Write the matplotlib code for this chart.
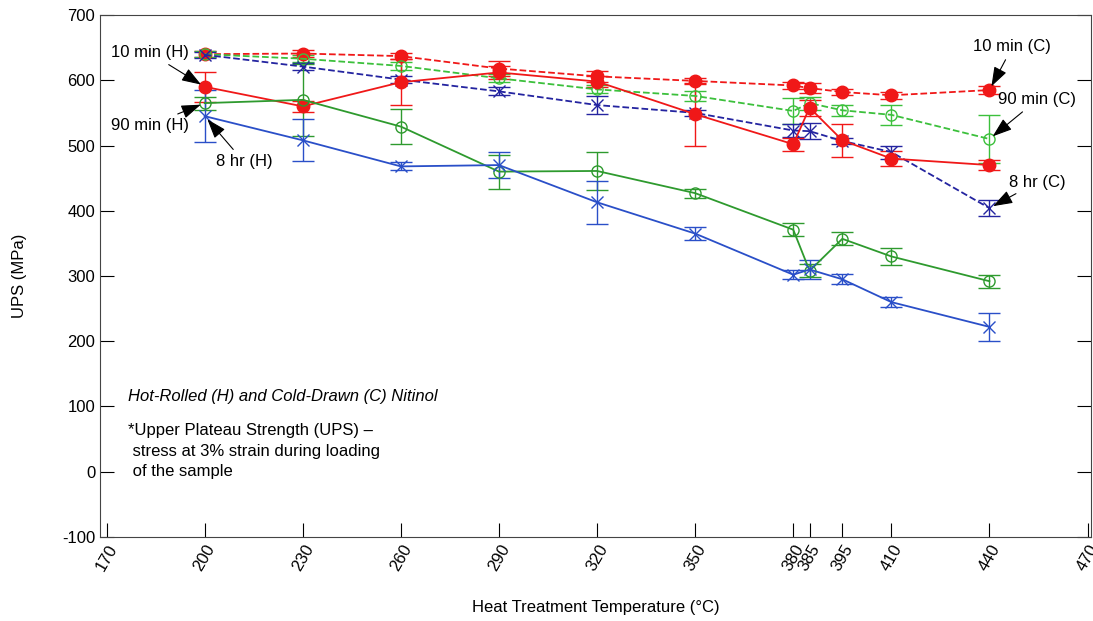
import numpy as np
import matplotlib
matplotlib.use('Agg')
import matplotlib.pyplot as plt

plt.rcParams['font.family'] = ['Liberation Sans', 'DejaVu Sans']
plt.rcParams['axes.unicode_minus'] = False

# heat treatment temperatures (deg C)
temps = [200, 230, 260, 290, 320, 350, 380, 385, 395, 410, 440]

# hot-rolled (H)
h10 = [590, 560, 597, 612, 598, 548, 502, 558, 508, 480, 470]
h10_err = [23, 8, 35, 10, 8, 48, 10, 12, 25, 12, 8]
h90 = [565, 570, 529, 460, 461, 427, 371, 308, 357, 330, 292]
h90_err = [10, 55, 27, 26, 29, 7, 10, 10, 10, 13, 10]
h8 = [545, 508, 468, 470, 413, 365, 302, 310, 295, 260, 222]
h8_err = [40, 32, 6, 20, 33, 10, 7, 15, 8, 8, 22]

# cold-drawn (C)
c10 = [640, 641, 637, 618, 606, 599, 592, 588, 582, 577, 585]
c10_err = [5, 5, 5, 12, 8, 5, 5, 8, 5, 5, 6]
c90 = [640, 633, 622, 603, 586, 576, 553, 565, 554, 547, 510]
c90_err = [5, 5, 6, 6, 6, 8, 20, 10, 8, 15, 37]
c8 = [639, 621, 601, 583, 562, 550, 523, 522, 507, 490, 404]
c8_err = [5, 6, 5, 6, 14, 5, 10, 12, 5, 10, 12]

xticks = [170, 200, 230, 260, 290, 320, 350, 380, 385, 395, 410, 440, 470]

red = '#f01818'
green = '#2e9a2e'
blue = '#2a4fc8'
navy = '#2424a0'

fig = plt.figure(figsize=(10.93, 6.21), dpi=100)
ax = fig.add_axes([0.0915, 0.1353, 0.9065, 0.8405])

kw = dict(lw=1.3, capsize=8, elinewidth=1)
# cold-drawn, dashed
ax.errorbar(temps, c10, yerr=c10_err, color=red, ls='--', marker='o', ms=9, mfc=red, **kw)
ax.errorbar(temps, c90, yerr=c90_err, color='#3cc03c', ls='--', marker='o', ms=8,
            mfc='none', **kw)
ax.errorbar(temps, c8, yerr=c8_err, color=navy, ls='--', marker='x', ms=8, **kw)

# hot-rolled, solid
ax.errorbar(temps, h10, yerr=h10_err, color=red, ls='-', marker='o', ms=9, mfc=red, **kw)
ax.errorbar(temps, h90, yerr=h90_err, color=green, ls='-', marker='o', ms=8, mfc='none', **kw)
ax.errorbar(temps, h8, yerr=h8_err, color=blue, ls='-', marker='x', ms=8, **kw)

ax.set_xlim(168, 471)
ax.set_ylim(-100, 700)
ax.set_xticks(xticks)
ax.set_xticklabels([str(t) for t in xticks], rotation=60, fontsize=12)
ax.set_yticks(range(-100, 701, 100))
ax.tick_params(axis='y', labelsize=12, direction='in', right=True, length=10)
ax.tick_params(axis='x', direction='in', length=10)
for s in ax.spines.values():
    s.set_color('#444444')

ax.set_xlabel('Heat Treatment Temperature (°C)', fontsize=12, labelpad=19)
ax.set_ylabel('UPS (MPa)', fontsize=12, labelpad=25)

arrow = dict(arrowstyle='-|>,head_width=0.35,head_length=1.0', color='black',
             lw=0.8, mutation_scale=12, shrinkA=2, shrinkB=3)
ax.annotate('10 min (H)', xy=(200, 590), xytext=(183.2, 642), ha='center', va='center',
            fontsize=12, arrowprops=arrow)
ax.annotate('90 min (H)', xy=(200, 565), xytext=(183.2, 531), ha='center', va='center',
            fontsize=12, arrowprops=arrow)
ax.annotate('8 hr (H)', xy=(200, 545), xytext=(212, 475), ha='center', va='center',
            fontsize=12, arrowprops=arrow)
ax.annotate('10 min (C)', xy=(440, 585), xytext=(447, 651), ha='center', va='center',
            fontsize=12, arrowprops=arrow)
ax.annotate('90 min (C)', xy=(440, 510), xytext=(454.6, 570), ha='center', va='center',
            fontsize=12, arrowprops=arrow)
ax.annotate('8 hr (C)', xy=(440, 404), xytext=(454.6, 444), ha='center', va='center',
            fontsize=12, arrowprops=arrow)

ax.text(176.5, 116, 'Hot-Rolled (H) and Cold-Drawn (C) Nitinol', fontsize=12,
        style='italic', va='center')
ax.text(176.5, 74, '*Upper Plateau Strength (UPS) –\n stress at 3% strain during loading\n of the sample',
        fontsize=12, va='top', linespacing=1.45)

plt.savefig('out.png', dpi=100)
